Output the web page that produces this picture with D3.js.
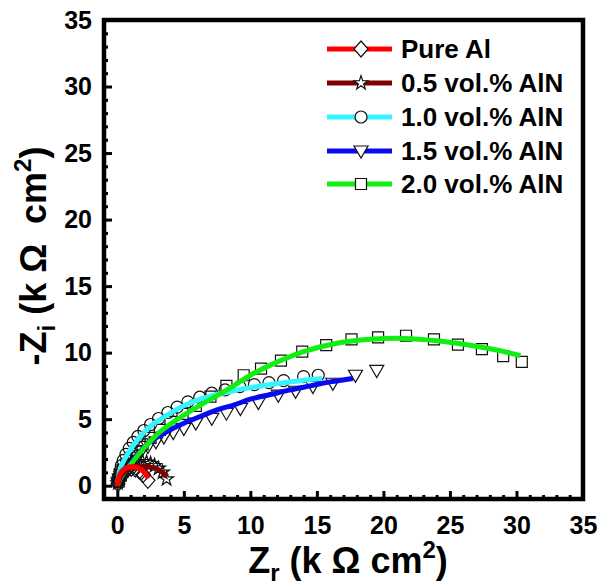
<!DOCTYPE html>
<html>
<head>
<meta charset="utf-8">
<script src="https://cdn.jsdelivr.net/npm/d3@7"></script>
<style>
  body { margin: 0; background: #fff; }
  text { font-family: "Liberation Sans", Arial, sans-serif; font-weight: bold; fill: #000; }
</style>
</head>
<body>
<svg id="chart"></svg>
<script>
// Nyquist data, Zr / -Zi in k ohm cm2
const seriesNames = ['Pure Al', '0.5 vol.% AlN', '1.0 vol.% AlN', '1.5 vol.% AlN', '2.0 vol.% AlN'];
const seriesColors = ['#ff0000', '#800000', '#33f4ff', '#0a0aee', '#11ee11'];
const seriesSymbols = ['diamond', 'star', 'circle', 'triangle', 'square'];

const pureAlMeas = [[0.05,0.15],[0.15,0.45],[0.3,0.75],[0.5,1.0],[0.75,1.2],[1.05,1.3],[1.35,1.25],[1.65,1.1],[1.95,0.85],[2.3,0.4]];
const pureAlFit = [[0,0],[0.1,0.6],[0.3,1.05],[0.6,1.3],[0.95,1.42],[1.3,1.4],[1.6,1.3],[1.9,1.12],[2.15,0.85],[2.35,0.55]];

const vol05Meas = [[0.05,0.2],[0.15,0.5],[0.3,0.85],[0.5,1.15],[0.75,1.4],[1.0,1.6],[1.3,1.75],[1.6,1.8],[1.9,1.8],[2.2,1.75],[2.5,1.65],[2.8,1.5],[3.1,1.3],[3.4,1.0],[3.7,0.5]];
const vol05Fit = [[0,0],[0.2,0.6],[0.5,1.0],[0.9,1.3],[1.3,1.42],[1.73,1.46],[2.2,1.43],[2.7,1.35],[3.0,1.25],[3.4,1.0],[3.74,0.69]];

const vol10Meas = [[0.05,0.3],[0.12,0.7],[0.2,1.1],[0.3,1.5],[0.45,1.9],[0.65,2.35],[0.9,2.8],[1.2,3.25],[1.55,3.7],[2.0,4.15],[2.5,4.6],[3.1,5.05],[3.8,5.5],[4.5,5.9],[5.3,6.3],[6.2,6.65],[7.1,6.95],[8.1,7.2],[9.2,7.45],[10.3,7.6],[11.4,7.75],[12.5,7.9],[14.0,8.2],[15.1,8.3]];
const vol10Fit = [[0,0],[0.05,0.4],[0.23,1.3],[0.73,2.3],[1.48,3.4],[2.48,4.46],[3.74,5.3],[5.0,6.0],[6.24,6.5],[7.5,6.86],[8.74,7.14],[10.0,7.37],[11.5,7.6],[12.9,7.8],[14.2,7.95],[15.4,8.05]];

const vol15Meas = [[0.05,0.2],[0.15,0.5],[0.3,0.85],[0.5,1.2],[0.75,1.55],[1.05,1.9],[1.4,2.25],[1.8,2.6],[2.3,2.95],[2.9,3.3],[3.5,3.65],[4.2,4.0],[5.0,4.3],[5.9,4.7],[7.1,5.06],[8.2,5.45],[9.25,5.8],[10.6,6.25],[12.1,6.8],[13.4,7.1],[14.7,7.46],[16.2,7.7],[17.9,8.3],[19.5,8.66]];
const vol15Fit = [[0,0],[0.1,0.3],[0.73,1.3],[1.48,2.3],[2.48,3.3],[3.74,4.07],[5.0,4.7],[6.24,5.2],[7.5,5.7],[8.74,6.06],[10.0,6.5],[11.5,6.85],[13.0,7.2],[14.5,7.5],[16.0,7.8],[17.7,8.06]];

const vol20Meas = [[0.1,0.3],[0.25,0.75],[0.45,1.2],[0.7,1.65],[1.0,2.1],[1.4,2.6],[1.9,3.1],[2.5,3.6],[3.2,4.2],[4.0,4.8],[4.9,5.4],[5.9,6.0],[7.0,6.7],[8.2,7.5],[9.5,8.3],[10.8,8.8],[12.3,9.4],[13.9,10.07],[15.7,10.56],[17.6,11.0],[19.6,11.14],[21.7,11.27],[23.8,11.0],[25.6,10.6],[27.4,10.26],[29.0,9.74],[30.4,9.3]];
const vol20Fit = [[0,0],[0.23,0.56],[0.98,1.56],[1.98,2.8],[3.23,4.07],[5.0,5.3],[6.24,6.06],[7.5,6.77],[8.74,7.5],[10.0,8.3],[11.5,9.06],[14.0,10.07],[16.5,10.7],[19.0,11.0],[21.5,11.07],[24.0,10.9],[26.5,10.56],[28.5,10.2],[30.3,9.77]];

const measured = [pureAlMeas, vol05Meas, vol10Meas, vol15Meas, vol20Meas];
const fitted = [pureAlFit, vol05Fit, vol10Fit, vol15Fit, vol20Fit];

const xTicks = [0, 5, 10, 15, 20, 25, 30, 35];
const yTicks = [0, 5, 10, 15, 20, 25, 30, 35];

const width = 601, height = 588;
const margin = {left: 104, right: 18, top: 20, bottom: 89};

const svg = d3.select('#chart').attr('width', width).attr('height', height);

const x = d3.scaleLinear().domain([-1, 35]).range([margin.left, width - margin.right]);
const y = d3.scaleLinear().domain([-1, 35]).range([height - margin.bottom, margin.top]);

// marker shapes
function shape(type){
    if(type == 'diamond') return 'M0,-8L7,0L0,8L-7,0Z';
    if(type == 'triangle') return 'M-7,-5L7,-5L0,7Z';
    if(type == 'circle') return d3.symbol(d3.symbolCircle, Math.PI * 36)();
    if(type == 'square') return d3.symbol(d3.symbolSquare, 121)();
    return d3.symbol(d3.symbolStar, 60)();
}

const plot = svg.append('g');

// markers first, fitted lines on top
measured.forEach((pts, i) => {
    plot.append('g')
        .selectAll('path')
        .data(pts)
        .join('path')
        .attr('d', shape(seriesSymbols[i]))
        .attr('transform', d => `translate(${x(d[0])},${y(d[1])})`)
        .attr('fill', 'none')
        .attr('stroke', '#111')
        .attr('stroke-width', 1.2);
});

const line = d3.line()
    .x(d => x(d[0]))
    .y(d => y(d[1]))
    .curve(d3.curveCatmullRom);

[2, 3, 4, 1, 0].forEach(i => {
    plot.append('path')
        .datum(fitted[i])
        .attr('d', line)
        .attr('fill', 'none')
        .attr('stroke', seriesColors[i])
        .attr('stroke-width', 5);
});

// axes: inward ticks, major with labels, minor every 1
const minorVals = d3.range(0, 35).filter(v => v % 5 != 0);

function styleAxis(g){
    g.select('.domain').remove();
    g.selectAll('.tick line').attr('stroke', '#000').attr('stroke-width', 3);
    g.selectAll('.tick text').style('font-size', '25px');
}

svg.append('g')
    .attr('transform', `translate(0,${y(-1)})`)
    .call(d3.axisBottom(x).tickValues(minorVals).tickFormat('').tickSizeInner(-4).tickSizeOuter(0))
    .call(styleAxis);

svg.append('g')
    .attr('transform', `translate(0,${y(-1)})`)
    .call(d3.axisBottom(x).tickValues(xTicks).tickSizeInner(-8).tickSizeOuter(0).tickPadding(17))
    .call(styleAxis);

svg.append('g')
    .attr('transform', `translate(${x(-1)},0)`)
    .call(d3.axisLeft(y).tickValues(minorVals).tickFormat('').tickSizeInner(-4).tickSizeOuter(0))
    .call(styleAxis);

svg.append('g')
    .attr('transform', `translate(${x(-1)},0)`)
    .call(d3.axisLeft(y).tickValues(yTicks).tickSizeInner(-8).tickSizeOuter(0).tickPadding(12))
    .call(styleAxis);

// frame
svg.append('rect')
    .attr('x', x(-1))
    .attr('y', y(35))
    .attr('width', x(35) - x(-1))
    .attr('height', y(-1) - y(35))
    .attr('fill', 'none')
    .attr('stroke', '#000')
    .attr('stroke-width', 4.5);

// axis titles
const xTitle = svg.append('text')
    .attr('x', 348)
    .attr('y', 573)
    .attr('text-anchor', 'middle')
    .style('font-size', '36px');
xTitle.append('tspan').text('Z');
xTitle.append('tspan').attr('dy', 8).style('font-size', '24px').text('r');
xTitle.append('tspan').attr('dy', -8).text(' (k \u03A9 cm');
xTitle.append('tspan').attr('dy', -15).style('font-size', '24px').text('2');
xTitle.append('tspan').attr('dy', 15).text(')');

const yTitle = svg.append('text')
    .attr('transform', 'translate(46,256) rotate(-90)')
    .attr('text-anchor', 'middle')
    .style('font-size', '36px')
    .style('white-space', 'pre');
yTitle.append('tspan').text('-Z');
yTitle.append('tspan').attr('dy', 9).style('font-size', '24px').text('i');
yTitle.append('tspan').attr('dy', -9).text(' (k \u03A9  cm');
yTitle.append('tspan').attr('dy', -15).style('font-size', '24px').text('2');
yTitle.append('tspan').attr('dy', 15).text(')');

// legend
const legendY = [49, 83, 117, 151, 184];
const legend = svg.append('g');
seriesNames.forEach((name, i) => {
    const row = legend.append('g').attr('transform', `translate(0,${legendY[i]})`);
    row.append('line')
        .attr('x1', 327).attr('x2', 392)
        .attr('stroke', seriesColors[i])
        .attr('stroke-width', 5);
    row.append('path')
        .attr('d', shape(seriesSymbols[i]))
        .attr('transform', 'translate(361,0)')
        .attr('fill', '#fff')
        .attr('stroke', '#111')
        .attr('stroke-width', 1.2);
    row.append('text')
        .attr('x', 401)
        .attr('y', 9)
        .style('font-size', '26px')
        .text(name);
});
</script>
</body>
</html>
